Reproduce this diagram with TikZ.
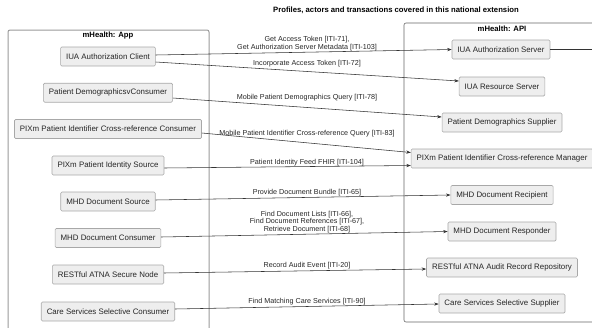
\documentclass[tikz,border=0pt]{standalone}
\usepackage{fontspec}
\setmainfont{Liberation Sans}
\usetikzlibrary{arrows.meta}
\definecolor{boxfill}{HTML}{EEEEEE}
\definecolor{boxline}{HTML}{A8A8A8}
\definecolor{lineclr}{HTML}{333333}
\tikzset{
  actor/.style={draw=boxline, fill=boxfill, rounded corners=1.2pt, line width=0.6pt,
    minimum height=19pt, inner xsep=5.5pt, inner ysep=0pt, text=black!85,
    font=\fontsize{7.9}{9}\selectfont},
  msg/.style={draw=lineclr, line width=0.55pt, -{Stealth[length=4.5pt,width=3.2pt]}},
  lbl/.style={align=center, inner sep=0pt, text=black!85, font=\fontsize{7.2}{7.8}\selectfont},
  ttl/.style={inner sep=0pt, font=\bfseries\fontsize{7.7}{9}\selectfont},
}
\begin{document}
\begin{tikzpicture}[x=1pt,y=-1pt]
\useasboundingbox (0,0) rectangle (592,327);
% title
\node[ttl] (title) at (396,10) {Profiles, actors and transactions covered in this national extension};
% containers
\draw[draw=black!40, line width=1pt, rounded corners=2pt] (8,330) -- (8,30) -- (209,30) -- (209,330);
\node[ttl] (app) at (108,36) {mHealth: App};
\draw[draw=black!60, line width=0.6pt, rounded corners=2pt] (600,23) -- (404,23) -- (404,322) -- (600,322);
\node[ttl] (api) at (502,29) {mHealth: API};
% left actors
\node[actor] (c1) at (108,56.5) {IUA Authorization Client};
\node[actor] (c2) at (108,92.7) {Patient DemographicsvConsumer};
\node[actor] (c3) at (108,129) {PIXm Patient Identifier Cross-reference Consumer};
\node[actor] (c4) at (108,165.5) {PIXm Patient Identity Source};
\node[actor] (c5) at (108,201.5) {MHD Document Source};
\node[actor] (c6) at (108,238) {MHD Document Consumer};
\node[actor] (c7) at (108,274.5) {RESTful ATNA Secure Node};
\node[actor] (c8) at (108,311.5) {Care Services Selective Consumer};
% right actors
\node[actor] (s1) at (501,49.5) {IUA Authorization Server};
\node[actor] (s2) at (502,86.5) {IUA Resource Server};
\node[actor] (s3) at (502,122.5) {Patient Demographics Supplier};
\node[actor] (s4) at (502,158.5) {PIXm Patient Identifier Cross-reference Manager};
\node[actor] (s5) at (502,195) {MHD Document Recipient};
\node[actor] (s6) at (502,231.5) {MHD Document Responder};
\node[actor] (s7) at (502,267.5) {RESTful ATNA Audit Record Repository};
\node[actor] (s8) at (502,303.5) {Care Services Selective Supplier};
\coordinate (out) at (592,49.5);
% connectors
\draw[msg] ([yshift=1.5pt]c1.east) -- (s1.west);
\draw[msg] ([yshift=-5.5pt]c1.east) -- ([yshift=5.5pt]s2.west);
\draw[msg] ([yshift=-5.3pt]c2.east) -- ([yshift=5.5pt]s3.west);
\draw[msg] ([yshift=-4pt]c3.east) -- ([yshift=6pt]s4.west);
\draw[msg] ([yshift=-2.5pt]c4.east) -- ([yshift=-7pt]s4.west);
\draw[msg] ([yshift=1.5pt]c5.east) -- (s5.west);
\draw[msg] ([yshift=1pt]c6.east) -- (s6.west);
\draw[msg] ([yshift=1.5pt]c7.east) -- ([yshift=-1.5pt]s7.west);
\draw[msg] ([yshift=2.5pt]c8.east) -- ([yshift=-0.5pt]s8.west);
\draw[draw=lineclr, line width=0.55pt] (s1.east) -- (out);
% labels
\node[lbl] (l1) at (307,44) {Get Access Token [ITI-71],\\Get Authorization Server Metadata [ITI-103]};
\node[lbl] (l2) at (307,64) {Incorporate Access Token [ITI-72]};
\node[lbl] (l3) at (307,98) {Mobile Patient Demographics Query [ITI-78]};
\node[lbl] (l4) at (307,134) {Mobile Patient Identifier Cross-reference Query [ITI-83]};
\node[lbl] (l5) at (307,163) {Patient Identity Feed FHIR [ITI-104]};
\node[lbl] (l6) at (307,193) {Provide Document Bundle [ITI-65]};
\node[lbl] (l7) at (307,222) {Find Document Lists [ITI-66],\\Find Document References [ITI-67],\\Retrieve Document [ITI-68]};
\node[lbl] (l8) at (307,266) {Record Audit Event [ITI-20]};
\node[lbl] (l9) at (307,302) {Find Matching Care Services [ITI-90]};
\end{tikzpicture}
\end{document}
